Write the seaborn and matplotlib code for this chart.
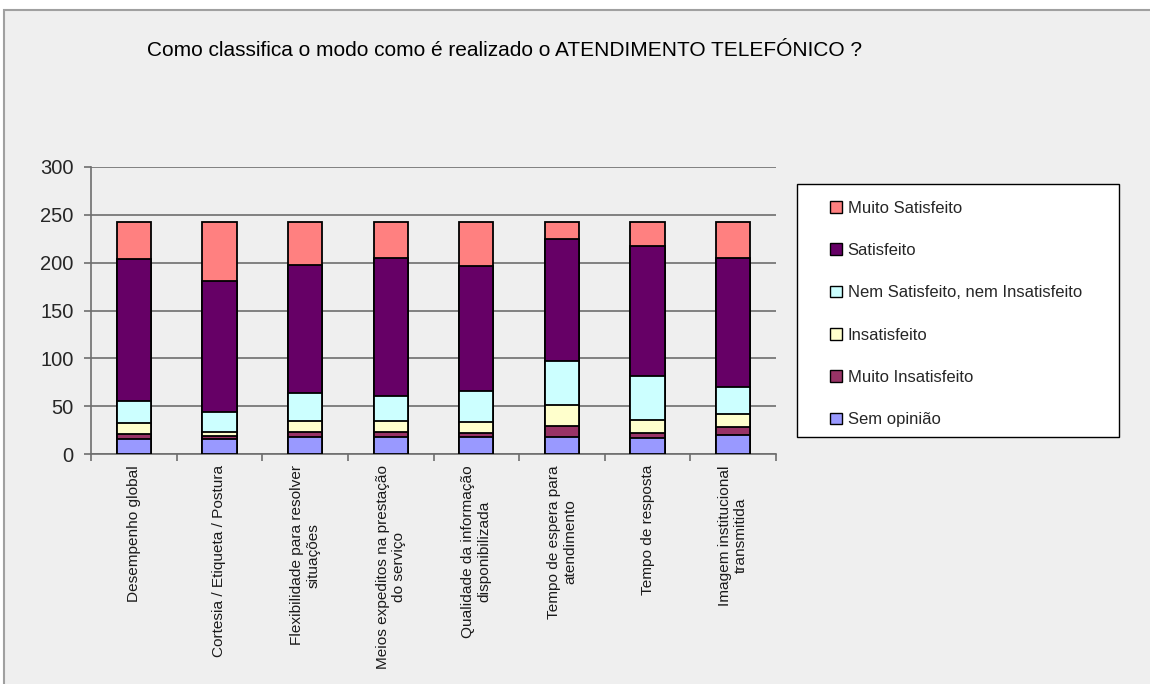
import matplotlib
matplotlib.use("Agg")
import matplotlib.pyplot as plt
import matplotlib.patches as mpatches
import seaborn as sns
import numpy as np

categories = [
    "Desempenho global",
    "Cortesia / Etiqueta / Postura",
    "Flexibilidade para resolver\nsituações",
    "Meios expeditos na prestação\ndo serviço",
    "Qualidade da informação\ndisponibilizada",
    "Tempo de espera para\natendimento",
    "Tempo de resposta",
    "Imagem institucional\ntransmitida",
]
series_names = ["Sem opinião", "Muito Insatisfeito", "Insatisfeito",
                "Nem Satisfeito, nem Insatisfeito", "Satisfeito", "Muito Satisfeito"]
sem_opiniao = [16, 16, 18, 18, 18, 18, 17, 20]
muito_insatisfeito = [5, 3, 5, 5, 4, 11, 5, 8]
insatisfeito = [11, 4, 11, 11, 11, 22, 14, 14]
nem = [23, 21, 30, 27, 33, 46, 46, 28]
satisfeito = [149, 137, 134, 144, 130, 128, 135, 135]
muito_satisfeito = [39, 62, 45, 38, 47, 18, 26, 38]
yticks = [0, 50, 100, 150, 200, 250, 300]

colors = ["#9999FF", "#993366", "#FFFFCC", "#CCFFFF", "#660066", "#FF8080"]

sns.set_theme(style="white")
plt.rcParams['font.family'] = ['Liberation Sans', 'DejaVu Sans']

fig = plt.figure(figsize=(11.5, 6.84), dpi=100, facecolor="white")
# chart area background
bg = mpatches.Rectangle((4/1150, -0.1), 1.2, 1.1 - 10/684,
                        transform=fig.transFigure, facecolor="#EFEFEF",
                        edgecolor="#A0A0A0", linewidth=1.5, zorder=-10)
fig.add_artist(bg)

ax = fig.add_axes([91/1150, 1 - 454/684, (776 - 91)/1150, (454 - 167)/684])
ax.set_zorder(1)
ax.set_facecolor("#EFEFEF")

series = [sem_opiniao, muito_insatisfeito, insatisfeito, nem, satisfeito, muito_satisfeito]
cum = np.cumsum(np.array(series), axis=0)
x_idx = list(range(len(categories)))
for i in range(len(series) - 1, -1, -1):
    sns.barplot(x=x_idx, y=cum[i], color=colors[i], width=0.4, edgecolor="black",
                linewidth=1.3, saturation=1, ax=ax, zorder=3)

ax.set_ylim(0, 300)
ax.set_xlim(-0.5, len(categories) - 0.5)
ax.set_yticks(yticks)
ax.set_yticklabels([str(v) for v in yticks], fontsize=14.5)
ax.yaxis.grid(True, color="#6E6E6E", linewidth=1.2, zorder=0)
ax.set_axisbelow(True)
for s in ["top", "right"]:
    ax.spines[s].set_visible(False)
for s in ["left", "bottom"]:
    ax.spines[s].set_color("#6E6E6E")
    ax.spines[s].set_linewidth(1.2)
ax.tick_params(axis="y", which="major", length=5, color="#6E6E6E", width=1.2, left=True, pad=7.5)
ax.set_xticks(x_idx)
ax.set_xticklabels(categories, rotation=90, fontsize=11.1, ha="center", va="top",
                   multialignment="center", color="#1a1a1a")
ax.tick_params(axis="x", which="major", length=0, pad=8)
ax.set_xticks([k - 0.5 for k in range(len(categories) + 1)], minor=True)
ax.tick_params(axis="x", which="minor", length=5, color="#6E6E6E", width=1.2, bottom=True)
ax.set_xlabel("")
ax.set_ylabel("")

# legend frame
frame = mpatches.Rectangle((797/1150, 1 - 437/684), 322/1150, 253/684,
                           transform=fig.transFigure, facecolor="white",
                           edgecolor="black", linewidth=1.0, zorder=2)
fig.add_artist(frame)
handles = [mpatches.Patch(facecolor=colors[i], edgecolor="black", linewidth=1.0,
                          label=series_names[i]) for i in range(len(series) - 1, -1, -1)]
leg = fig.legend(handles=handles, loc="center left",
                 bbox_to_anchor=(830/1150, 1 - 314/684),
                 fontsize=12, frameon=False,
                 handlelength=0.7, handleheight=0.7, handletextpad=0.35,
                 labelspacing=1.64, borderpad=0, borderaxespad=0)
leg.set_zorder(3)

fig.text(147/1150, 1 - 50/684, "Como classifica o modo como é realizado o ATENDIMENTO TELEFÓNICO ?",
         fontsize=15, ha="left", va="center", color="black",
         family=["Liberation Sans", "DejaVu Sans"])

fig.savefig("out.png", dpi=100, facecolor=fig.get_facecolor())
